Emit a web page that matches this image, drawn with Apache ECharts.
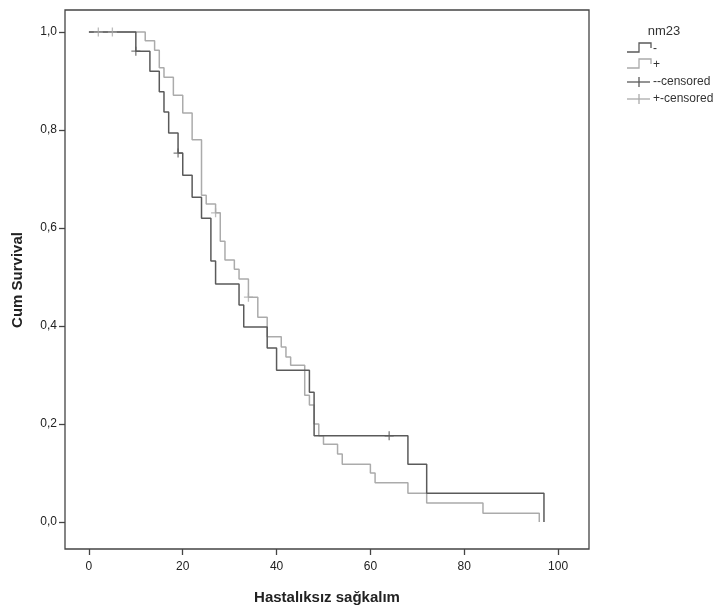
<!DOCTYPE html>
<html><head><meta charset="utf-8">
<script src="https://cdn.jsdelivr.net/npm/echarts@6/dist/echarts.min.js"></script>
<style>html,body{margin:0;padding:0;background:#fff}#c{width:728px;height:615px}</style>
</head><body><div id="c"></div>
<script>
// nm23 "-" group
const negTimes = [0,10,13,15,16,17,19,20,22,24,26,27,32,33,38,40,47,48,68,72,97];
const negSurv  = [1,0.961,0.920,0.878,0.837,0.794,0.753,0.708,0.663,0.620,0.533,0.486,0.443,0.398,0.355,0.310,0.265,0.176,0.118,0.059,0];
// nm23 "+" group
const posTimes = [0,12,14,15,16,18,20,22,24,25,27,28,29,31,32,34,36,38,41,42,43,46,47,48,49,50,53,54,60,61,68,72,84,96];
const posSurv  = [1,0.982,0.963,0.927,0.908,0.871,0.835,0.780,0.667,0.649,0.631,0.573,0.535,0.516,0.496,0.459,0.418,0.378,0.357,0.337,0.320,0.259,0.239,0.200,0.176,0.159,0.139,0.118,0.100,0.080,0.059,0.039,0.018,0];
// censored marks
const negCensTimes = [10,19,64];
const negCensSurv  = [0.961,0.753,0.176];
const posCensTimes = [2,5,27,34];
const posCensSurv  = [1,1,0.631,0.459];
// ticks
const xTicks = [0,20,40,60,80,100];
const yTicks = [0,0.2,0.4,0.6,0.8,1.0];
const legendTitle = 'nm23';
const legendLabels = ['-','+','--censored','+-censored'];

const DARK = '#5a5a5a', LIGHT = '#ababab';
const FONT = 'Liberation Sans, Arial, sans-serif';
const zip = (a,b) => a.map((v,i)=>[v,b[i]]);
const cross = 'path://M5,0L5,10M0,5L10,5';

const chart = echarts.init(document.getElementById('c'), null, {renderer:'canvas'});
chart.setOption({
  animation:false,
  backgroundColor:'#fff',
  grid:{left:65, top:10, width:524, height:539, show:true, borderColor:'#444', borderWidth:1.3, backgroundColor:'transparent'},
  xAxis:{type:'value', min:-5.1, max:106.6,
    axisLine:{show:false, onZero:false}, splitLine:{show:false},
    axisTick:{show:true, length:6, inside:false, customValues:xTicks, lineStyle:{color:'#444', width:1.3}},
    axisLabel:{customValues:xTicks, margin:12, color:'#222', fontSize:12, fontFamily:FONT}
  },
  yAxis:{type:'value', min:-0.055, max:1.045,
    axisLine:{show:false, onZero:false}, splitLine:{show:false},
    axisTick:{show:true, length:6, inside:false, customValues:yTicks, lineStyle:{color:'#444', width:1.3}},
    axisLabel:{customValues:yTicks, margin:8, color:'#222', fontSize:12, fontFamily:FONT,
      formatter:v=>v.toFixed(1).replace('.',',')}
  },
  series:[
    {type:'line', step:'end', data:zip(posTimes,posSurv), showSymbol:false, lineStyle:{color:LIGHT,width:1.5}, z:2},
    {type:'line', step:'end', data:zip(negTimes,negSurv), showSymbol:false, lineStyle:{color:DARK,width:1.5}, z:3},
    {type:'scatter', data:zip(posCensTimes,posCensSurv), symbol:cross, symbolSize:9,
      itemStyle:{color:'none', borderColor:LIGHT, borderWidth:1.3}, z:4},
    {type:'scatter', data:zip(negCensTimes,negCensSurv), symbol:cross, symbolSize:9,
      itemStyle:{color:'none', borderColor:DARK, borderWidth:1.3}, z:5}
  ],
  graphic:[
    {type:'text', x:18, y:280, rotation:Math.PI/2, style:{text:'Cum Survival', font:'bold 15px '+FONT, fill:'#222', textAlign:'center', textVerticalAlign:'middle'}},
    {type:'text', x:327, y:598, style:{text:'Hastalıksız sağkalım', font:'bold 15px '+FONT, fill:'#222', textAlign:'center', textVerticalAlign:'middle'}},
    {type:'text', x:664, y:31, style:{text:legendTitle, font:'13px '+FONT, fill:'#333', textAlign:'center', textVerticalAlign:'middle'}},
    {type:'polyline', shape:{points:[[627,52],[639,52],[639,43],[651,43],[651,48]]}, style:{stroke:DARK, lineWidth:1.3, fill:null}},
    {type:'text', x:653, y:49, style:{text:legendLabels[0], font:'12px '+FONT, fill:'#333', textVerticalAlign:'middle'}},
    {type:'polyline', shape:{points:[[627,68],[639,68],[639,59],[651,59],[651,64]]}, style:{stroke:LIGHT, lineWidth:1.3, fill:null}},
    {type:'text', x:653, y:65, style:{text:legendLabels[1], font:'12px '+FONT, fill:'#333', textVerticalAlign:'middle'}},
    {type:'line', shape:{x1:627,y1:82,x2:650,y2:82}, style:{stroke:DARK, lineWidth:1.3}},
    {type:'line', shape:{x1:639,y1:77,x2:639,y2:87}, style:{stroke:DARK, lineWidth:1.3}},
    {type:'text', x:653, y:82, style:{text:legendLabels[2], font:'12px '+FONT, fill:'#333', textVerticalAlign:'middle'}},
    {type:'line', shape:{x1:627,y1:99,x2:650,y2:99}, style:{stroke:LIGHT, lineWidth:1.3}},
    {type:'line', shape:{x1:639,y1:94,x2:639,y2:104}, style:{stroke:LIGHT, lineWidth:1.3}},
    {type:'text', x:653, y:99, style:{text:legendLabels[3], font:'12px '+FONT, fill:'#333', textVerticalAlign:'middle'}}
  ]
});
</script></body></html>
